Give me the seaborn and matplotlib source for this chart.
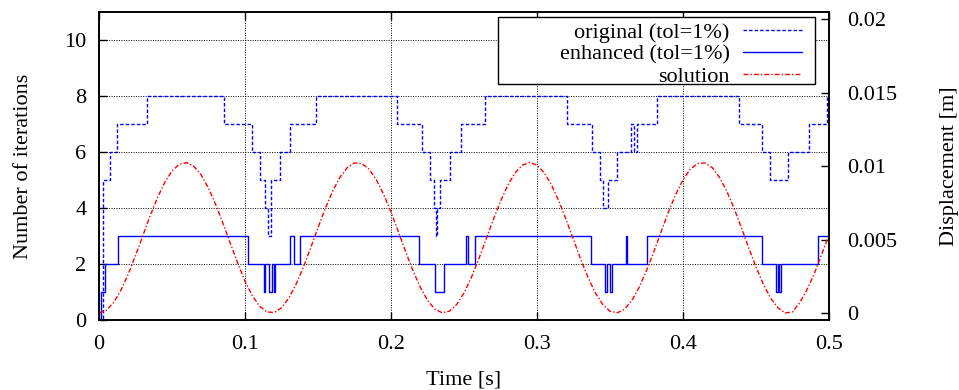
import numpy as np
import matplotlib
matplotlib.use("Agg")
import matplotlib.pyplot as plt
from matplotlib.patches import Rectangle
import seaborn as sns

# iteration counts: time where the value changes, value held until next time
orig_t = [0, 0.0025, 0.0075, 0.0121, 0.0327, 0.0853, 0.1047, 0.1104, 0.1139, 0.1160,
          0.1175, 0.1237, 0.1305, 0.1488, 0.2042, 0.2213, 0.2270, 0.2293, 0.2305, 0.2316,
          0.2334, 0.2401, 0.2481, 0.2647, 0.3208, 0.3379, 0.3432, 0.3454, 0.3487, 0.3551,
          0.3642, 0.3665, 0.3688, 0.3820, 0.4385, 0.4538, 0.4595, 0.4717, 0.4865, 0.4988,
          0.5]
orig_n = [0, 5, 6, 7, 8, 7, 6, 5, 4, 3,
          5, 6, 7, 8, 7, 6, 5, 4, 3, 4,
          5, 6, 7, 8, 7, 6, 5, 4, 5, 6,
          7, 6, 7, 8, 7, 6, 5, 6, 7, 8,
          8]

enh_t = [0, 0.0014, 0.0041, 0.0133, 0.1020, 0.1127, 0.1140, 0.1161, 0.1184, 0.1196,
         0.1207, 0.1305, 0.1337, 0.1376, 0.2190, 0.2298, 0.2366, 0.2517, 0.2529, 0.2574,
         0.3372, 0.3466, 0.3477, 0.3500, 0.3512, 0.3608, 0.3619, 0.3752, 0.4541, 0.4637,
         0.4648, 0.4659, 0.4671, 0.4927, 0.5]
enh_n = [0, 1, 2, 3, 2, 1, 2, 1, 2, 1,
         2, 3, 2, 3, 2, 1, 2, 3, 2, 3,
         2, 1, 2, 1, 2, 3, 2, 3, 2, 1,
         2, 1, 2, 3, 3]

# displacement sampled every 0.005 s
sol_t = np.linspace(0, 0.5, 101)
sol_x = [0.00000, 0.00018, 0.00071, 0.00155, 0.00264, 0.00391, 0.00526, 0.00661, 0.00784, 0.00889,
         0.00967, 0.01013, 0.01024, 0.00999, 0.00940, 0.00850, 0.00737, 0.00608, 0.00473, 0.00339,
         0.00217, 0.00118, 0.00046, 0.00007, 0.00003, 0.00035, 0.00101, 0.00196, 0.00313, 0.00444,
         0.00581, 0.00712, 0.00829, 0.00924, 0.00990, 0.01022, 0.01018, 0.00979, 0.00907, 0.00807,
         0.00687, 0.00554, 0.00418, 0.00289, 0.00176, 0.00086, 0.00026, 0.00001, 0.00012, 0.00058,
         0.00136, 0.00241, 0.00364, 0.00499, 0.00634, 0.00761, 0.00870, 0.00954, 0.01007, 0.01025,
         0.01007, 0.00954, 0.00870, 0.00761, 0.00634, 0.00499, 0.00364, 0.00241, 0.00136, 0.00058,
         0.00012, 0.00001, 0.00026, 0.00085, 0.00175, 0.00289, 0.00417, 0.00553, 0.00687, 0.00807,
         0.00907, 0.00979, 0.01018, 0.01022, 0.00990, 0.00924, 0.00829, 0.00712, 0.00581, 0.00444,
         0.00313, 0.00196, 0.00101, 0.00035, 0.00000, 0.00007, 0.00070, 0.00160, 0.00270, 0.00400,
         0.00530]

labels = ["original (tol=1%)", "enhanced (tol=1%)", "solution"]
x_ticks = [0, 0.1, 0.2, 0.3, 0.4, 0.5]
x_labels = ["0", "0.1", "0.2", "0.3", "0.4", "0.5"]
y_ticks = [0, 2, 4, 6, 8, 10]
y2_ticks = [0, 0.005, 0.01, 0.015, 0.02]
y2_labels = ["0", "0.005", "0.01", "0.015", "0.02"]

sns.set_theme(style="ticks")
plt.rcParams["font.family"] = ["Liberation Serif", "DejaVu Serif"]
plt.rcParams["font.size"] = 16
for k in ["axes.edgecolor", "xtick.color", "ytick.color", "text.color", "axes.labelcolor"]:
    plt.rcParams[k] = "black"

fs = 16
fig = plt.figure(figsize=(9.59, 3.9), dpi=100)
ax = fig.add_axes([99 / 959, 70 / 390, 730 / 959, 308 / 390])
ax2 = ax.twinx()

sns.lineplot(x=orig_t, y=orig_n, ax=ax, color="blue", lw=1, linestyle=(0, (2.5, 1.5)),
             drawstyle="steps-post", estimator=None, legend=False)
sns.lineplot(x=enh_t, y=enh_n, ax=ax, color="blue", lw=1,
             drawstyle="steps-post", estimator=None, legend=False)
sns.lineplot(x=sol_t, y=sol_x, ax=ax2, color="red", lw=1, linestyle=(0, (3.5, 1.5, 1, 1.5)),
             estimator=None, legend=False)

ax.set_xlim(0, 0.5)
ax.set_ylim(0, 11)
ax2.set_ylim(-0.00048, 0.0205)
ax.set_xticks(x_ticks)
ax.set_xticklabels(x_labels, fontsize=fs)
ax.set_yticks(y_ticks)
ax.set_yticklabels([str(v) for v in y_ticks], fontsize=fs)
ax2.set_yticks(y2_ticks)
ax2.set_yticklabels(y2_labels, fontsize=fs)

ax.grid(True, color="black", linestyle=(0, (1, 1.5)), lw=0.7)
ax.tick_params(direction="in", length=6, width=1, top=True, right=False)
ax.tick_params(axis="x", pad=11)
ax.tick_params(axis="y", pad=9)
ax2.tick_params(axis="y", direction="in", length=6, width=1, pad=13)
for a in (ax, ax2):
    for s in a.spines.values():
        s.set_linewidth(1.2)
        s.set_color("black")

ax.set_xlabel("Time [s]", fontsize=fs)
ax.set_ylabel("Number of iterations", fontsize=fs)
ax2.set_ylabel("Displacement [m]", fontsize=fs)
ax.xaxis.set_label_coords(0.5, -0.165)
ax.yaxis.set_label_coords(-0.09, 0.5)
ax2.yaxis.set_label_coords(1.152, 0.5)

# legend box like gnuplot key
fig.add_artist(Rectangle((498 / 959, 1 - 84 / 390), 317 / 959, 67 / 390, transform=fig.transFigure,
                         facecolor="white", edgecolor="black", lw=1, zorder=5))
handles = [ax.lines[0], ax.lines[1], ax2.lines[0]]
leg = fig.legend(handles, labels, loc="upper right", bbox_to_anchor=(802 / 959, 1 - 22 / 390),
                 frameon=False, markerfirst=False, handlelength=2.65, handletextpad=0.6,
                 labelspacing=0.08, borderpad=0, borderaxespad=0, fontsize=fs)
leg.set_zorder(6)

fig.savefig("out.png", dpi=100)
